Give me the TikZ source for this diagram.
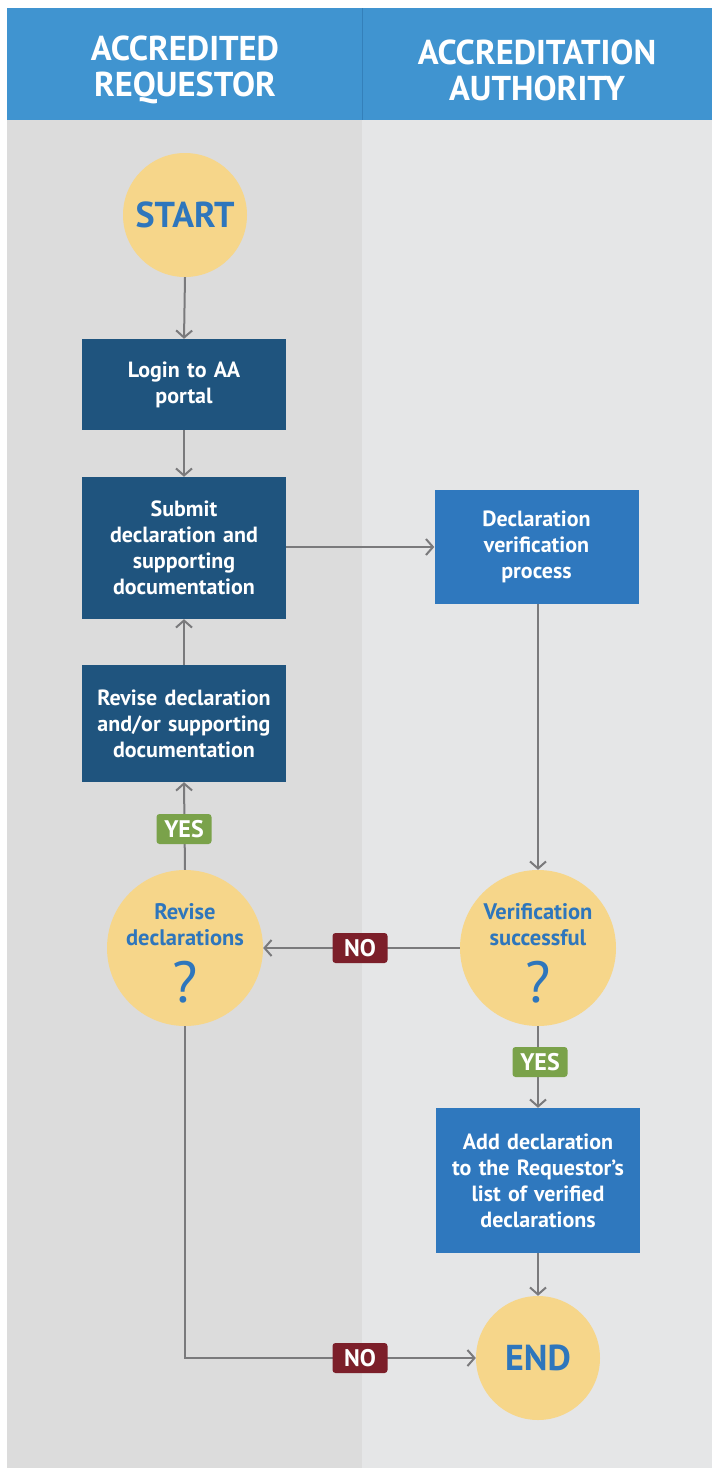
\documentclass[tikz,border=0pt]{standalone}
\usepackage{fontspec}
\setmainfont{PT Sans}
\usetikzlibrary{arrows.meta}
\definecolor{hdr}{RGB}{64,148,208}
\definecolor{hdrline}{RGB}{52,128,186}
\definecolor{lanel}{RGB}{220,220,220}
\definecolor{laner}{RGB}{229,230,231}
\definecolor{boxdark}{RGB}{31,84,126}
\definecolor{boxlight}{RGB}{47,120,190}
\definecolor{circ}{RGB}{246,214,138}
\definecolor{circtext}{RGB}{46,118,188}
\definecolor{nored}{RGB}{124,31,42}
\definecolor{yesgreen}{RGB}{122,162,74}
\definecolor{arrgray}{RGB}{122,122,124}
\tikzset{
  boxbase/.style={text=white, inner sep=2pt, align=center, text width=200pt,
    font=\fontsize{22}{26}\selectfont\bfseries, minimum width=204pt},
  darkbox/.style={boxbase, fill=boxdark},
  lightbox/.style={boxbase, fill=boxlight},
  circnode/.style={circle, fill=circ, inner sep=0pt},
  circlabel/.style={text=circtext, align=center, inner sep=0pt,
    font=\fontsize{22.5}{26}\selectfont\bfseries},
  qmark/.style={text=circtext, inner sep=0pt, font=\fontsize{58}{60}\selectfont},
  bigword/.style={text=circtext, inner sep=0pt, font=\fontsize{36}{40}\selectfont\bfseries},
  tag/.style={rounded corners=3pt, text=white, inner sep=0pt, minimum width=55pt,
    minimum height=30pt, font=\fontsize{24}{24}\selectfont\bfseries},
  hdrtext/.style={text=white, align=center, font=\fontsize{34.5}{36}\selectfont\bfseries},
  arr/.style={draw=arrgray, line width=2pt, -{Straight Barb[length=7pt, width=16pt, line width=2pt]}}
}
\begin{document}
\begin{tikzpicture}[x=1pt,y=-1pt]
\useasboundingbox (0,0) rectangle (712,1468);
\fill[white] (0,0) rectangle (712,1468);
\fill[lanel] (7,120) rectangle (362,1468);
\fill[laner] (362,120) rectangle (712,1468);
\fill[hdr] (7,8) rectangle (712,120);
\draw[hdrline, line width=1pt] (362,8) -- (362,120);

\node[hdrtext] (h1) at (185,70) {ACCREDITED\\REQUESTOR};
\node[hdrtext] (h2) at (537,70) {ACCREDITATION\\AUTHORITY};

\node[circnode, minimum size=124pt] (start) at (185,215) {};
\node[bigword] (startt) at (185,215) {START};
\node[darkbox, minimum height=91pt] (login) at (184,384.5) {Login to AA\\portal};
\node[darkbox, minimum height=142pt] (submit) at (184,548) {Submit\\declaration and\\supporting\\documentation};
\node[lightbox, minimum width=203pt, minimum height=114pt] (decl) at (536.5,547) {Declaration\\verification\\process};
\node[darkbox, minimum height=117pt] (revbox) at (184,723.5) {Revise declaration\\and/or supporting\\documentation};
\node[circnode, minimum size=156pt] (revc) at (185,948) {};
\node[circlabel] (revct) at (185,925) {Revise\\declarations};
\node[qmark] (revq) at (185,982) {?};
\node[circnode, minimum size=156pt] (verc) at (538,948) {};
\node[circlabel] (verct) at (538,925) {Verification\\successful};
\node[qmark] (verq) at (538,982) {?};
\node[lightbox, minimum height=145pt] (add) at (538,1180.5) {Add declaration\\to the Requestor’s\\list of verified\\declarations};
\node[circnode, minimum size=124pt] (end) at (538,1358) {};
\node[bigword] (endt) at (538,1358) {END};

\draw[arr] (start.south) -- (login.north);
\draw[arr] (login.south) -- (submit.north);
\draw[arr] (submit.east |- decl.west) -- (decl.west);
\draw[arr] (revbox.north) -- (submit.south);
\draw[arr] (revc.north) -- (revbox.south);
\draw[arr] (decl.south -| verc.north) -- (verc.north);
\draw[arr] (verc.west) -- (revc.east);
\draw[arr] (verc.south) -- (add.north);
\draw[arr] (add.south -| end.north) -- (end.north);
\draw[arr] (revc.south) |- (end.west);

\node[tag, fill=yesgreen] (yes1) at (184,829) {YES};
\node[tag, fill=yesgreen] (yes2) at (540,1062) {YES};
\node[tag, fill=nored] (no1) at (360,948) {NO};
\node[tag, fill=nored] (no2) at (360,1358) {NO};
\end{tikzpicture}
\end{document}
